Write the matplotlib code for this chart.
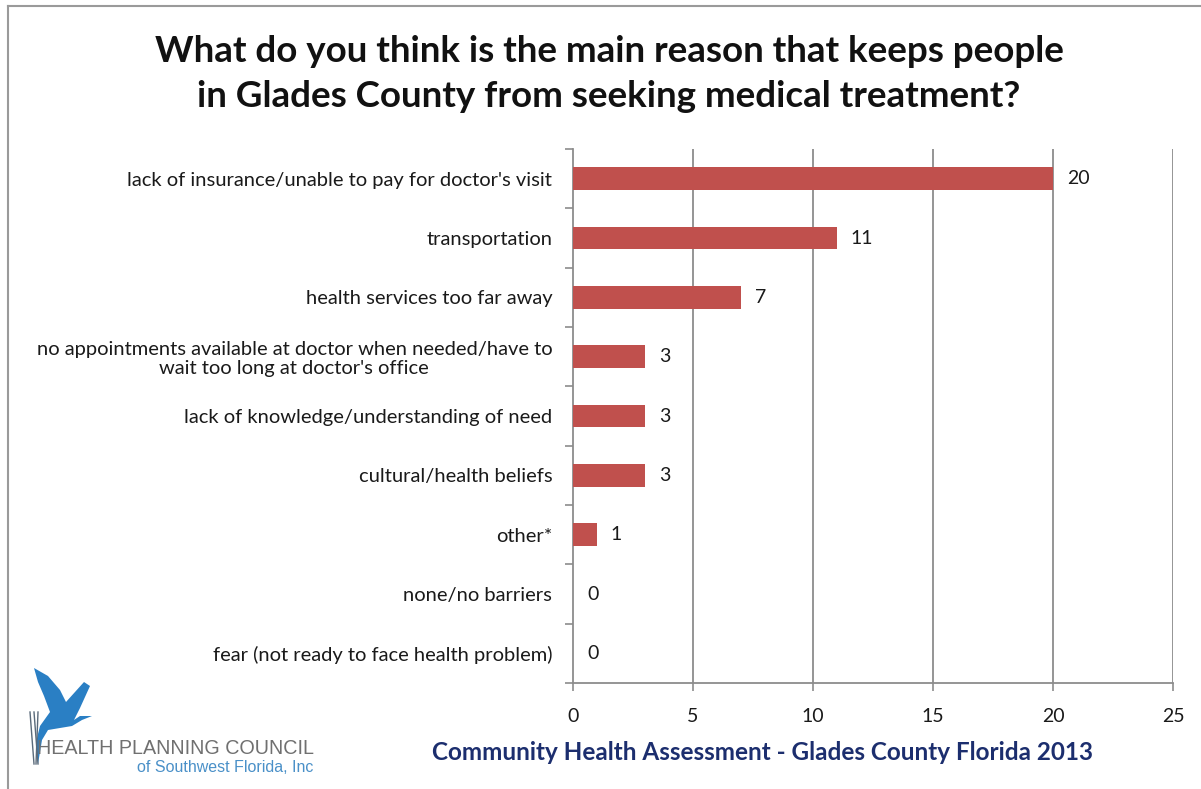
import matplotlib

matplotlib.use("Agg")
import matplotlib.pyplot as plt
from matplotlib.patches import Polygon
from matplotlib.lines import Line2D

categories = [
    "lack of insurance/unable to pay for doctor's visit",
    "transportation",
    "health services too far away",
    "no appointments available at doctor when needed/have to\nwait too long at doctor's office",
    "lack of knowledge/understanding of need",
    "cultural/health beliefs",
    "other*",
    "none/no barriers",
    "fear (not ready to face health problem)",
]
counts = [20, 11, 7, 3, 3, 3, 1, 0, 0]
x_ticks = [0, 5, 10, 15, 20, 25]

title = ("What do you think is the main reason that keeps people\n"
         "in Glades County from seeking medical treatment?")
footer = "Community Health Assessment - Glades County Florida 2013"

BAR = "#C0504D"
GRID = "#8C8C8C"
TEXT = "#1A1A1A"
NAVY = "#1C2E6E"

W, H = 1201, 789
plt.rcParams["font.family"] = ["Lato", "DejaVu Sans"]

fig = plt.figure(figsize=(W / 100, H / 100), dpi=100)


def px(x, y):
    return x / W, 1 - y / H


ax = fig.add_axes([573 / W, (H - 683) / H, 600 / W, 534 / H])
pos = list(range(len(categories)))
ax.barh(pos, counts, height=0.38, color=BAR, zorder=3)
ax.set_ylim(len(categories) - 0.5, -0.5)
ax.set_xlim(0, 25)

for y, v in zip(pos, counts):
    ax.annotate(str(v), (v, y), xytext=(10, 0), textcoords="offset points",
                va="center", ha="left", fontsize=14, color=TEXT)

ax.set_yticks(pos)
ax.set_yticklabels(categories, fontsize=14.5, color=TEXT)
for lbl in ax.get_yticklabels():
    lbl.set_horizontalalignment("right")
    lbl.set_multialignment("center")
    lbl.set_linespacing(1.15)
ax.tick_params(axis="y", which="major", length=0, pad=15)
ax.set_yticks([i - 0.5 for i in range(len(categories) + 1)], minor=True)
ax.tick_params(axis="y", which="minor", length=6, width=1.2, color=GRID,
               direction="out")

ax.set_xticks(x_ticks)
ax.tick_params(axis="x", which="major", length=6, width=1.2, color=GRID,
               labelsize=14, labelcolor=TEXT, pad=12)
for t in x_ticks[1:]:
    ax.axvline(t, color=GRID, lw=1.3, zorder=1)

for side in ("top", "right"):
    ax.spines[side].set_visible(False)
for side in ("left", "bottom"):
    ax.spines[side].set_color(GRID)
    ax.spines[side].set_linewidth(1.3)

# headline and footer
fig.text(*px(609, 74), title, ha="center", va="center", fontsize=26.5,
         fontweight="bold", color="#111111", linespacing=1.42)
fig.text(*px(763, 752), footer, ha="center", va="center", fontsize=17.5,
         fontweight="bold", color=NAVY)

# frame around the chart area
fig.add_artist(Line2D([8 / W, 8 / W], [0, 1 - 6 / H], color="#9A9A9A", lw=1.5))
fig.add_artist(Line2D([8 / W, 1], [1 - 6 / H, 1 - 6 / H], color="#9A9A9A", lw=1.5))

# council logo: heron silhouette plus name
heron = [(34, 668), (48, 676), (60, 690), (66, 702), (84, 682), (90, 686),
         (80, 708), (74, 720), (80, 716), (92, 716), (82, 720), (72, 726),
         (60, 728), (48, 730), (42, 740), (38, 764), (36, 742), (40, 726),
         (50, 712), (44, 696), (38, 682)]
fig.add_artist(Polygon([px(x, y) for x, y in heron], closed=True,
                       facecolor="#2A7FC4", edgecolor="none"))
for x0, x1 in [(30, 34), (34, 38), (38, 36)]:
    fig.add_artist(Line2D([x0 / W, x1 / W], [1 - 712 / H, 1 - 764 / H],
                          color="#5a6a7a", lw=1.0))
logo_font = ["Liberation Sans Narrow", "Liberation Sans", "DejaVu Sans"]
fig.text(*px(37, 748), "HEALTH PLANNING COUNCIL", ha="left", va="center",
         fontsize=14.2, color="#707070", family=logo_font)
fig.text(*px(313, 768), "of Southwest Florida, Inc", ha="right", va="center",
         fontsize=11.5, color="#4A90C8", family=logo_font)

fig.savefig("out.png", dpi=100, facecolor="white")
